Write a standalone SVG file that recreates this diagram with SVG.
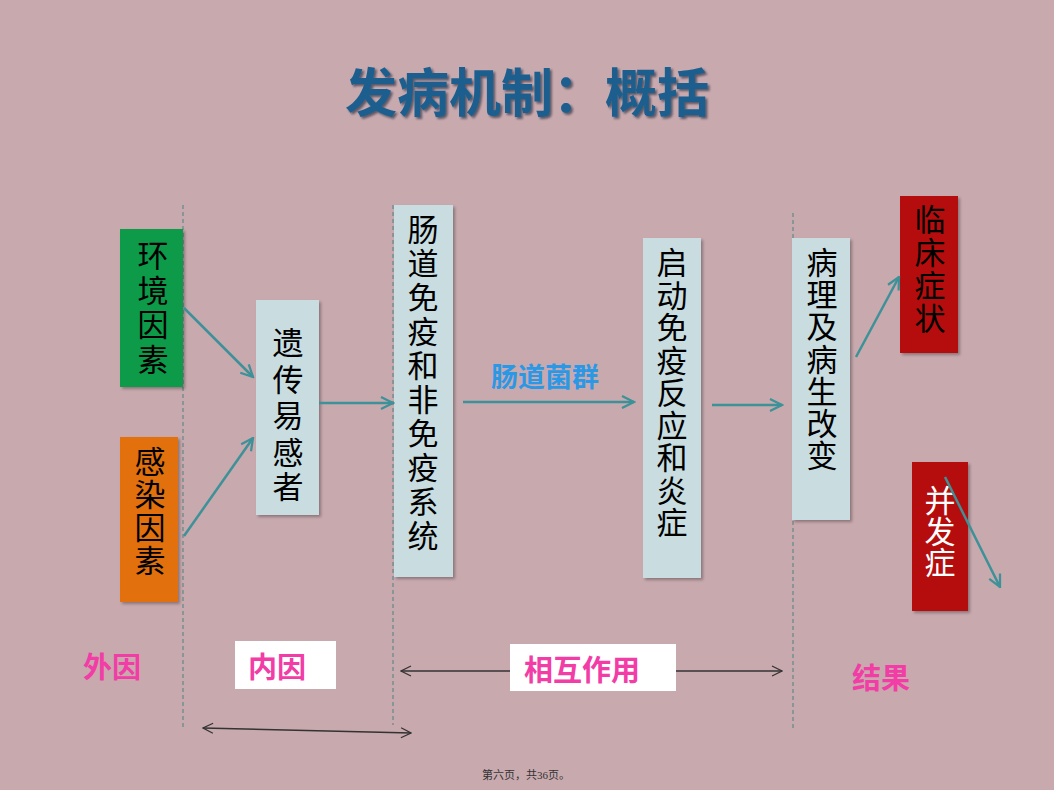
<svg xmlns="http://www.w3.org/2000/svg" width="1054" height="790" viewBox="0 0 1054 790">
<defs>
<style>
.cjk{font-family:"Noto Sans CJK SC","Noto Sans CJK TC",sans-serif;}
.v{font-size:31px;fill:#000;text-anchor:middle;dominant-baseline:central;}
.lbl{font-size:29px;font-weight:bold;fill:#f23ca6;text-anchor:middle;dominant-baseline:central;}
.dash{stroke:#4f8080;stroke-width:1;stroke-dasharray:4 3;fill:none;}
.conn{stroke:#3d9198;stroke-width:2.5;fill:none;marker-end:url(#ah);}
.dbl{stroke:#333;stroke-width:1.5;fill:none;marker-start:url(#open);marker-end:url(#open);}
.box{filter:url(#sh);}
</style>
<marker id="ah" viewBox="0 0 10 10" refX="9" refY="5" markerWidth="6" markerHeight="6" orient="auto" markerUnits="strokeWidth">
<path d="M1,1 L9,5 L1,9" fill="none" stroke="#3d9198" stroke-width="1.5"/>
</marker>
<marker id="open" viewBox="0 0 12 12" refX="11" refY="6" markerWidth="8" markerHeight="8" orient="auto-start-reverse" markerUnits="strokeWidth">
<path d="M1,1 L11,6 L1,11" fill="none" stroke="#333" stroke-width="1.2"/>
</marker>
<filter id="sh" x="-20%" y="-20%" width="140%" height="140%">
<feDropShadow dx="2" dy="2" stdDeviation="1.5" flood-color="#000" flood-opacity="0.3"/>
</filter>
<filter id="tsh" x="-10%" y="-20%" width="120%" height="140%">
<feDropShadow dx="2" dy="2" stdDeviation="1" flood-color="#0a2035" flood-opacity="0.6"/>
</filter>
</defs>
<rect x="0" y="0" width="1054" height="790" fill="#c8a9ae"/>

<text id="title" class="cjk" x="527" y="112" font-size="52" font-weight="bold" fill="#1b5f8e" text-anchor="middle" filter="url(#tsh)">发病机制：概括</text>

<g id="dividers">
<line class="dash" x1="183" y1="205" x2="183" y2="727"/>
<line class="dash" x1="393" y1="205" x2="393" y2="725"/>
<line class="dash" x1="793" y1="213" x2="793" y2="728"/>
</g>

<g id="n-env">
<rect class="box" x="120" y="229" width="63" height="158" fill="#0f9a4a"/>
<text class="cjk v" font-size="32"><tspan x="153" y="253">环</tspan><tspan x="153" y="288">境</tspan><tspan x="153" y="322">因</tspan><tspan x="153" y="357">素</tspan></text>
</g>

<g id="n-inf">
<rect class="box" x="120" y="437" width="58" height="165" fill="#e1700f"/>
<text class="cjk v"><tspan x="150" y="459">感</tspan><tspan x="150" y="492">染</tspan><tspan x="150" y="525">因</tspan><tspan x="150" y="558">素</tspan></text>
</g>

<g id="n-gen">
<rect class="box" x="256" y="300" width="63" height="215" fill="#c9dde0"/>
<text class="cjk v" font-size="33"><tspan x="288" y="340">遗</tspan><tspan x="288" y="377">传</tspan><tspan x="288" y="413">易</tspan><tspan x="288" y="450">感</tspan><tspan x="288" y="484">者</tspan></text>
</g>

<g id="n-imm">
<rect class="box" x="394" y="205" width="59" height="372" fill="#c9dde0"/>
<text class="cjk v"><tspan x="423" y="227">肠</tspan><tspan x="423" y="261">道</tspan><tspan x="423" y="295">免</tspan><tspan x="423" y="329">疫</tspan><tspan x="423" y="363">和</tspan><tspan x="423" y="397">非</tspan><tspan x="423" y="431">免</tspan><tspan x="423" y="465">疫</tspan><tspan x="423" y="499">系</tspan><tspan x="423" y="533">统</tspan></text>
</g>

<g id="n-resp">
<rect class="box" x="643" y="238" width="58" height="340" fill="#c9dde0"/>
<text class="cjk v"><tspan x="672" y="260">启</tspan><tspan x="672" y="292.5">动</tspan><tspan x="672" y="325">免</tspan><tspan x="672" y="357.5">疫</tspan><tspan x="672" y="390">反</tspan><tspan x="672" y="422.5">应</tspan><tspan x="672" y="455">和</tspan><tspan x="672" y="487.5">炎</tspan><tspan x="672" y="520">症</tspan></text>
</g>

<g id="n-path">
<rect class="box" x="792" y="238" width="58" height="282" fill="#c9dde0"/>
<text class="cjk v"><tspan x="822" y="260">病</tspan><tspan x="822" y="292">理</tspan><tspan x="822" y="324">及</tspan><tspan x="822" y="357">病</tspan><tspan x="822" y="389">生</tspan><tspan x="822" y="421">改</tspan><tspan x="822" y="453">变</tspan></text>
</g>

<g id="n-clin">
<rect class="box" x="900" y="196" width="58" height="157" fill="#b50b0b"/>
<text class="cjk v"><tspan x="930" y="217">临</tspan><tspan x="930" y="250">床</tspan><tspan x="930" y="283">症</tspan><tspan x="930" y="316">状</tspan></text>
</g>

<g id="n-comp">
<rect class="box" x="912" y="462" width="56" height="149" fill="#b50b0b"/>
<text class="cjk v" style="fill:#fff"><tspan x="940" y="498">并</tspan><tspan x="940" y="529">发</tspan><tspan x="940" y="560">症</tspan></text>
</g>

<g id="connectors">
<line class="conn" x1="184" y1="308" x2="253" y2="377"/>
<line class="conn" x1="184" y1="536" x2="253" y2="438"/>
<line class="conn" x1="319" y1="403" x2="393" y2="403"/>
<line class="conn" x1="463" y1="402" x2="634" y2="402"/>
<line class="conn" x1="712" y1="405" x2="782" y2="405"/>
<line class="conn" x1="856" y1="357" x2="899" y2="277"/>
<line class="conn" x1="945" y1="477" x2="1000" y2="587"/>
<line class="dbl" x1="401" y1="671" x2="782" y2="671"/>
<line class="dbl" x1="203" y1="728" x2="411" y2="733"/>
</g>

<text id="lbl-flora" class="cjk" x="545" y="375" font-size="27" font-weight="bold" fill="#2b98e6" text-anchor="middle" dominant-baseline="central">肠道菌群</text>

<g id="lbl-ext">
<text class="cjk lbl" x="112" y="665">外因</text>
</g>
<g id="lbl-int">
<rect x="235" y="641" width="101" height="48" fill="#fff"/>
<text class="cjk lbl" x="277" y="665" font-size="31">内因</text>
</g>
<g id="lbl-inter">
<rect x="510" y="644" width="166" height="47" fill="#fff"/>
<text class="cjk lbl" x="582" y="668" font-size="31">相互作用</text>
</g>
<g id="lbl-res">
<text class="cjk lbl" x="881" y="676" font-size="33">结果</text>
</g>

<text id="footer" x="526" y="779" font-family="'Liberation Serif','Noto Sans CJK SC',serif" font-size="11" fill="#333" text-anchor="middle">第六页，共36页。</text>
</svg>
